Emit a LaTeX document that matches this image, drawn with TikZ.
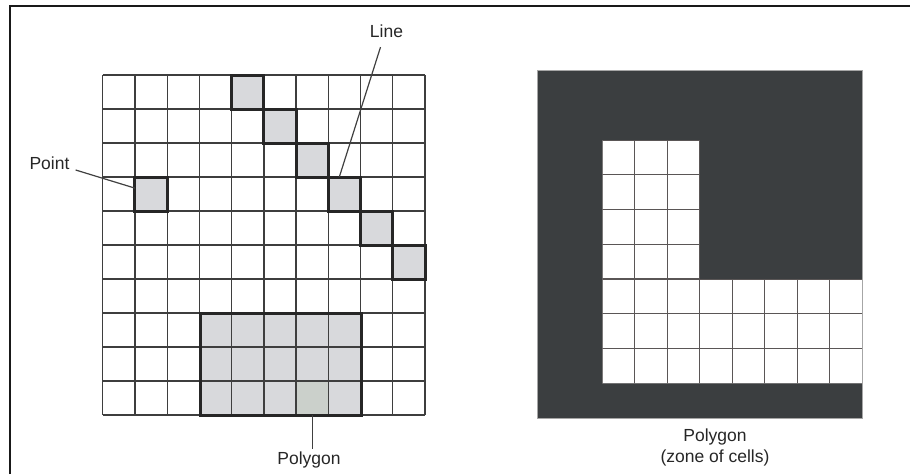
\documentclass[tikz,border=0pt]{standalone}
\usepackage{fontspec}
\setmainfont{Liberation Sans}
\usetikzlibrary{calc}
\definecolor{gline}{HTML}{3E3E3E}
\definecolor{hline}{HTML}{262626}
\definecolor{hfill}{HTML}{D8D9DC}
\definecolor{hfilltwo}{HTML}{CBD0CB}
\definecolor{darkfill}{HTML}{3B3E40}
\definecolor{rline}{HTML}{5A5656}
\newcommand\mkcell[4]{\node[cellbox,#4] (#1) at ({102.7+(#2+0.5)*32.23},{75+(#3+0.5)*34}) {};}
\begin{document}
\begin{tikzpicture}[x=1pt,y=-1pt,
  lbl/.style={font=\fontsize{17.5}{21}\selectfont, text=black!85, inner sep=0pt},
  gridline/.style={draw=gline, line width=1.3pt},
  rgridline/.style={draw=rline, line width=1.2pt},
  outl/.style={draw=hline, line width=3pt, line join=miter},
  cellbox/.style={rectangle, minimum width=32.23pt, minimum height=34pt, inner sep=0pt, outer sep=0pt, fill=hfill, draw=none},
  leader/.style={draw=black!75, line width=1.2pt}]
\useasboundingbox (0,0) rectangle (910,474);
% frame
\draw[line width=2.2pt, black!90] (10,474) -- (10,6) -- (910,6);

% ---------- left panel ----------
\node[cellbox, minimum width=161.15pt, minimum height=102pt] (poly) at (281.3,364) {};
\mkcell{pc}{6}{9}{fill=hfilltwo}
\mkcell{pt}{1}{3}{}
\mkcell{L0}{4}{0}{}
\mkcell{L1}{5}{1}{}
\mkcell{L2}{6}{2}{}
\mkcell{L3}{7}{3}{}
\mkcell{L4}{8}{4}{}
\mkcell{L5}{9}{5}{}
\foreach \i in {0,...,10} {
  \draw[gridline] ({102.7+\i*32.23},75) -- ({102.7+\i*32.23},415);
  \draw[gridline] (102.7,{75+\i*34}) -- (425,{75+\i*34});
}
\foreach \cn in {pt,L0,L1,L2,L3,L4,L5,poly} {
  \draw[outl] (\cn.north west) rectangle (\cn.south east);
}

% labels left
\node[lbl] (ptl) at (49.5,163) {Point};
\node[lbl] (linel) at (386.5,31.5) {Line};
\node[lbl, anchor=north] (polyl) at (309,451.5) {Polygon};
\draw[leader] ($(ptl.east)+(6,7)$) -- (pt.160);
\draw[leader] ($(linel.south)+(-6,9)$) -- ($(L3.north west)+(11,0)$);
\draw[leader] (pc.south) -- ($(pc.south |- polyl.north)+(0,-3)$);

% ---------- right panel ----------
\node[rectangle, fill=darkfill, draw=black!35, line width=0.8pt, inner sep=0pt,
      minimum width=325pt, minimum height=347.3pt] (dark) at (699.8,244.35) {};
\begin{scope}
  \path[clip] (602.3,140.2) -- (699.8,140.2) -- (699.8,279.1) -- (862.3,279.1)
     -- (862.3,383.3) -- (602.3,383.3) -- cycle;
  \fill[white] (602.3,140.2) -- (699.8,140.2) -- (699.8,279.1) -- (862.3,279.1)
     -- (862.3,383.3) -- (602.3,383.3) -- cycle;
  \foreach \i in {0,...,10} {
    \draw[rgridline] ({537.3+\i*32.5},70.7) -- ({537.3+\i*32.5},418);
    \draw[rgridline] (537.3,{70.7+\i*34.73}) -- (862.3,{70.7+\i*34.73});
  }
\end{scope}
\node[lbl, anchor=north, align=center] (zonel) at (715,428.5) {Polygon\\(zone of cells)};
\end{tikzpicture}
\end{document}
